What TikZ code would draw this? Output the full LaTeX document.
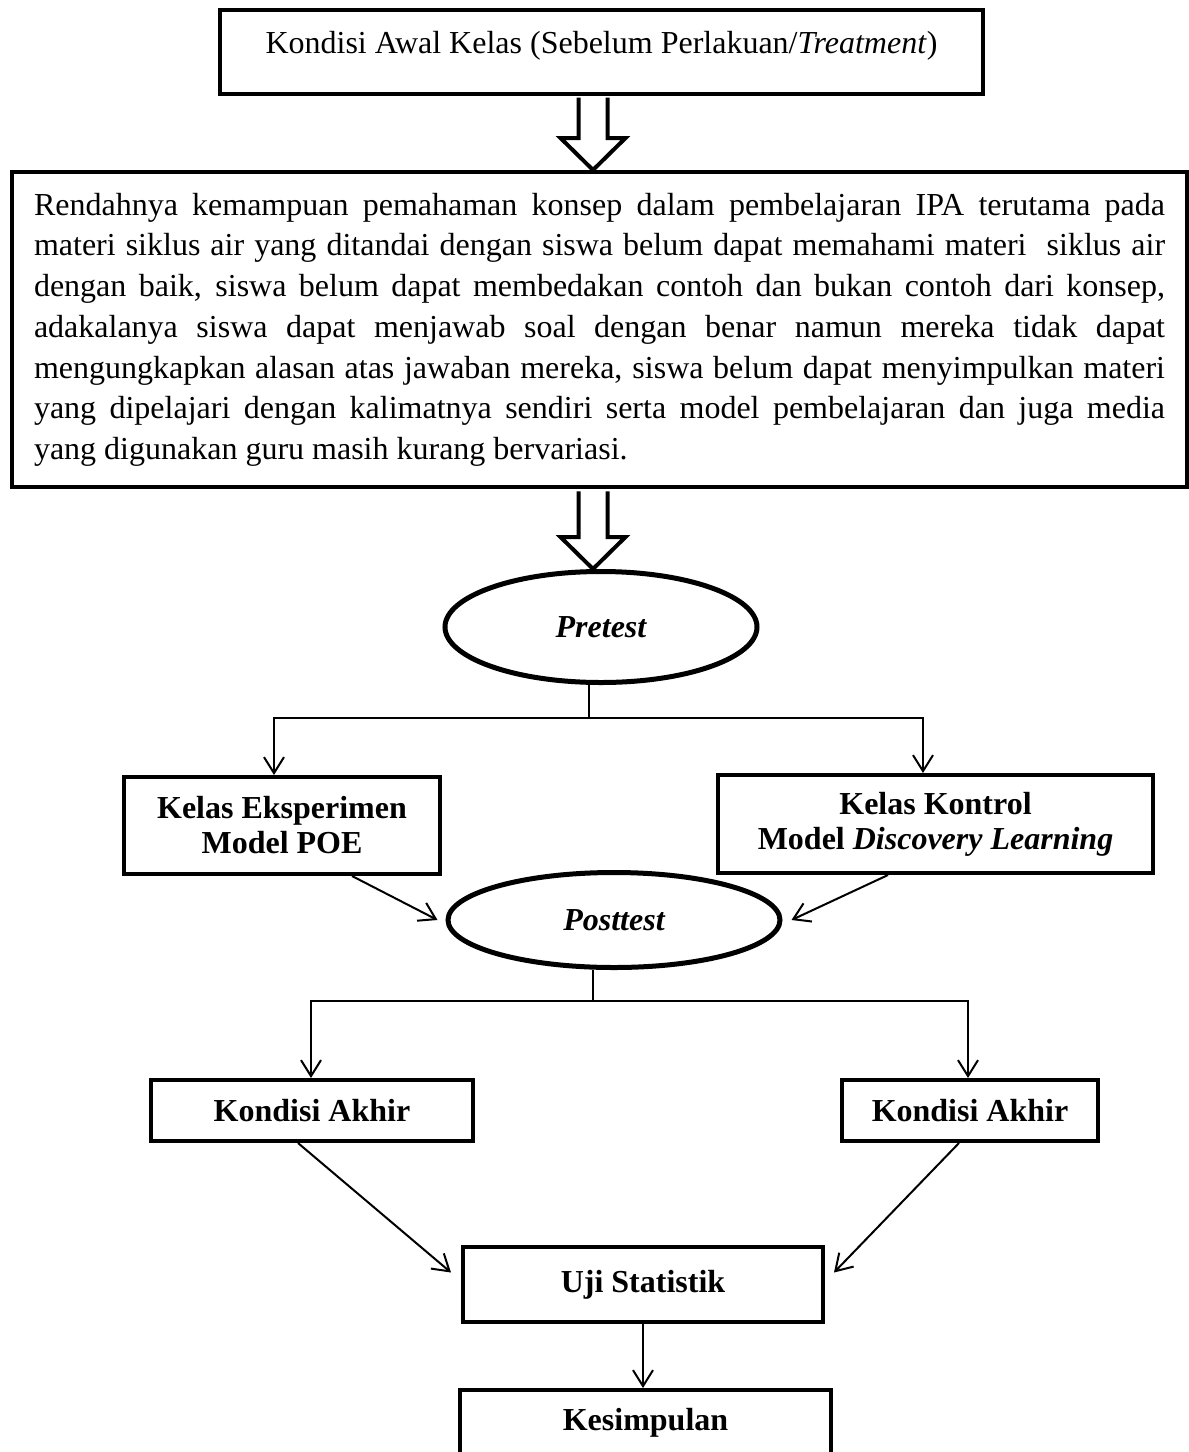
\documentclass[tikz,border=0pt]{standalone}
\usepackage{fontspec}
\setmainfont{Liberation Serif}
\usetikzlibrary{shapes.geometric,arrows.meta,calc}

\begin{document}
\begin{tikzpicture}[x=0.5pt,y=-0.5pt,
  box/.style={draw, line width=2pt, align=center, inner sep=0pt, font=\fontsize{16}{17.5}\selectfont\bfseries},
  oval/.style={draw, ellipse, line width=2.5pt, inner sep=0pt, font=\fontsize{16}{19}\selectfont\bfseries\itshape},
  conn/.style={line width=1pt, -{Straight Barb[length=8pt,width=10pt,line width=1pt]}},
  plain/.style={line width=1pt},
  fatarrow/.style={line width=2pt, fill=white, line join=miter}]
\useasboundingbox (0,0) rectangle (1189,1452);
\node[draw, line width=2pt, inner xsep=0pt, inner ysep=10pt, minimum width=381.5pt, text height=12pt, text depth=10pt, font=\fontsize{16}{19}\selectfont] (awal) at (601.5,51.5) {Kondisi Awal Kelas (Sebelum Perlakuan/\textit{Treatment})};
\node[draw, line width=2pt, anchor=north west, text width=565.5pt, align=justify, inner xsep=11pt, inner ysep=10.5pt, font=\fontsize{16}{20.35}\selectfont] (masalah) at (10,170) {\noindent\hyphenpenalty=10000\tolerance=9999
Rendahnya kemampuan pemahaman konsep dalam pembelajaran IPA terutama pada\linebreak
materi siklus air yang ditandai dengan siswa belum dapat memahami materi\ \ siklus air\linebreak
dengan baik, siswa belum dapat membedakan contoh dan bukan contoh dari konsep,\linebreak
adakalanya siswa dapat menjawab soal dengan benar namun mereka tidak dapat\linebreak
mengungkapkan alasan atas jawaban mereka, siswa belum dapat menyimpulkan materi\linebreak
yang dipelajari dengan kalimatnya sendiri serta model pembelajaran dan juga media\linebreak
yang digunakan guru masih kurang bervariasi.};
\node[oval, minimum width=156pt, minimum height=55.5pt] (pre) at (601,627) {Pretest};
\node[box, minimum width=158pt, minimum height=48.5pt] (eks) at (282,825.5) {Kelas Eksperimen\\Model POE};
\node[box, minimum width=217.5pt, minimum height=49pt] (kon) at (935.5,824) {Kelas Kontrol\\Model \textit{Discovery Learning}};
\node[oval, minimum width=166pt, minimum height=47.5pt] (post) at (614,920) {Posttest};
\node[box, minimum width=161pt, minimum height=30.5pt] (ka1) at (312,1110.5) {Kondisi Akhir};
\node[box, minimum width=128pt, minimum height=30.5pt] (ka2) at (970,1110.5) {Kondisi Akhir};
\node[box, minimum width=180pt, minimum height=37.5pt] (uji) at (643,1284.5) {Uji Statistik};
\node[box, minimum width=185.5pt, minimum height=33pt] (kes) at (645.5,1423) {Kesimpulan};

\draw[fatarrow] let \p1=(awal.south), \p2=(masalah.north) in
  (289.25pt,\y1-1pt) -- (289.25pt,\y2+16pt) -- (280.25pt,\y2+16pt) -- (296.5pt,\y2) -- (312.75pt,\y2+16pt) -- (303.75pt,\y2+16pt) -- (303.75pt,\y1-1pt);
\draw[fatarrow] let \p1=(masalah.south), \p2=(pre.north) in
  (289.25pt,\y1-1pt) -- (289.25pt,\y2+16pt) -- (280.25pt,\y2+16pt) -- (296.5pt,\y2) -- (312.75pt,\y2+16pt) -- (303.75pt,\y2+16pt) -- (303.75pt,\y1-1pt);

\coordinate (s1) at (589,718);
\draw[plain] ([xshift=-6pt]pre.south) -- (s1);
\draw[conn] (s1) -| ([xshift=-4pt]eks.north);
\draw[conn] (s1) -| ([xshift=-6.25pt]kon.north);
\draw[conn] ([xshift=35pt]eks.south) -- ([xshift=-4pt]post.west);
\draw[conn] ([xshift=-23.75pt]kon.south) -- ([xshift=4.5pt]post.east);

\coordinate (s2) at (593,1001);
\draw[plain] ([xshift=-10.5pt]post.south) -- (s2);
\draw[conn] (s2) -| ([xshift=-0.5pt]ka1.north);
\draw[conn] (s2) -| ([xshift=-1pt]ka2.north);
\draw[conn] ([xshift=-7pt]ka1.south) -- ([xshift=-5pt,yshift=6pt]uji.west);
\draw[conn] ([xshift=-5.5pt]ka2.south) -- ([xshift=4.5pt,yshift=6pt]uji.east);
\draw[conn] (uji.south) -- (uji.south |- kes.north);
\end{tikzpicture}
\end{document}
